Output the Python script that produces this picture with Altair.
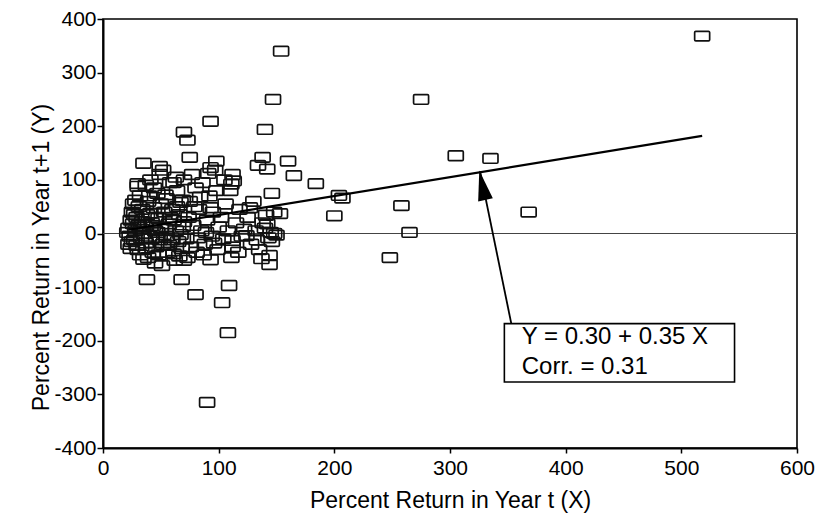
import altair as alt
import pandas as pd

# ---- scatter data (percent return in year t, year t+1) ----
x_vals = [
    # dense cluster, left
    22, 23, 24, 25, 22, 26, 27, 28, 29, 30, 31, 32, 33, 34, 35, 24, 26, 28, 30, 32, 34, 21, 25, 27, 29, 31, 33, 35,
    36, 37, 38, 39, 40, 41, 42, 43, 44, 45, 46, 47, 48, 49, 50, 37, 39, 41, 43, 45, 47, 49, 38, 40, 42, 44, 46, 48, 50,
    52, 53, 54, 55, 56, 57, 58, 59, 60, 61, 62, 63, 64, 65, 66, 67, 68, 69, 70, 52, 55, 58, 61, 64, 67, 70, 54, 57, 60, 63, 66, 69,
    72, 74, 75, 76, 78, 80, 81, 83, 85, 86, 88, 90, 92, 94, 95, 97, 99, 100, 73, 77, 79, 82, 84, 87, 89, 91, 93, 96, 98,
    102, 104, 106, 108, 110, 112, 115, 118, 120, 122, 125, 128, 130, 132, 135, 138, 140, 143, 145, 148, 150, 105, 113, 117, 127, 133, 142, 146,
    # outer points
    518, 154, 147, 93, 70, 73, 140, 75, 138, 134, 142, 160, 165, 184, 35, 49, 98, 93, 112, 111, 146, 204, 61, 30,
    141, 153, 111, 137, 144, 144, 38, 68, 80, 109, 103, 51, 70, 93, 148, 124, 112,
    207, 200, 248, 258, 265, 275, 305, 335, 368, 90, 108,
]
y_vals = [
    10, -5, 25, 40, -20, 55, -12, 5, 30, -30, 15, 70, -8, 45, 0, -28, 18, 62, 88, -40, 22, 2, -15, 35, -22, 50, 8, -48,
    12, -18, 35, 60, -5, 100, 20, -35, 48, 5, -25, 75, 28, -12, 55, 90, -45, 38, 15, -55, 2, 110, -28, 70, -10, 85, 30, -40, 10,
    -20, 40, 8, 65, -35, 18, 95, -8, 45, 25, -50, 5, 80, -15, 35, 58, -28, 12, 100, 118, -5, 30, -38, 50, -2, 22, 72, -22, -12, 105, -42, 62,
    -10, 30, 60, -25, 15, 85, -35, 45, 5, 95, -20, 25, 70, -5, 40, 118, -30, 12, -45, 110, 50, -8, 68, -40, 2, 112, 48, -18, 80,
    30, -10, 55, 5, 80, -25, 20, 45, -5, 8, 30, -20, 60, 5, -30, 20, 10, -8, 2, 40, -3, 100, 98, -35, 48, -12, 18, -15,
    368, 340, 250, 209, 189, 174, 194, 142, 142, 127, 120, 135, 108, 93, 131, 125, 135, 123, 110, 92, 75, 71, 95, 93,
    34, 37, -45, -47, -41, -58, -86, -86, -114, -97, -129, -60, -50, -49, 0, -4, -13,
    66, 33, -45, 52, 2, 250, 145, 140, 40, -315, -185,
]

# ---- regression line, zero line, annotation ----
reg_x, reg_x2 = [22], [518]
reg_y, reg_y2 = [7], [182]
zero_x, zero_x2, zero_y = [0], [600], [0]
arrow_x, arrow_x2 = [353], [326]
arrow_y, arrow_y2 = [-168], [116]
head_x, head_y = [328], [90]
box_x, box_x2 = [347], [546]
box_y, box_y2 = [-168], [-277]
note_text = ["Y = 0.30 + 0.35 X", "Corr. = 0.31"]
note_x = [362, 362]
note_y = [-206, -262]

x_ticks = [0, 100, 200, 300, 400, 500, 600]
y_ticks = [-400, -300, -200, -100, 0, 100, 200, 300, 400]

FONT = "Liberation Sans"

xscale = alt.Scale(domain=[0, 600], nice=False, zero=False)
yscale = alt.Scale(domain=[-400, 400], nice=False, zero=False)

LABEL_EXPR = "replace(datum.label, '\u2212', '-')"

x_axis = alt.Axis(values=x_ticks, title="Percent Return in Year t (X)", grid=False,
                  labelFontSize=21, titleFontSize=23, labelPadding=4, tickSize=5,
                  titleY=59, titleBaseline="alphabetic", labelFlush=False)
y_axis = alt.Axis(values=y_ticks, title="Percent Return in Year t+1 (Y)", grid=False,
                  labelFontSize=21, titleFontSize=23, labelPadding=1, tickSize=6,
                  titleX=-55, titleY=238, titleAngle=-90, titleAlign="center",
                  titleBaseline="alphabetic", labelFlush=False, labelExpr=LABEL_EXPR)


def X(field="x", axis=True):
    return alt.X(f"{field}:Q", scale=xscale, axis=x_axis if axis else None)


def Y(field="y", axis=True):
    return alt.Y(f"{field}:Q", scale=yscale, axis=y_axis if axis else None)


pts = pd.DataFrame({"x": x_vals, "y": y_vals})

rect_path = ("M-0.85,-0.64 L0.85,-0.64 Q1,-0.64 1,-0.49 L1,0.49 Q1,0.64 0.85,0.64 "
             "L-0.85,0.64 Q-1,0.64 -1,0.49 L-1,-0.49 Q-1,-0.64 -0.85,-0.64 Z")

zero = alt.Chart(pd.DataFrame({"x": zero_x, "x2": zero_x2, "y": zero_y})).mark_rule(
    color="#444", strokeWidth=1.2).encode(x=X(), x2="x2:Q", y=Y())

points = alt.Chart(pts).mark_point(shape=rect_path, size=225, filled=False,
                                    stroke="#111", strokeWidth=1.7, opacity=1).encode(
    x=X(), y=Y())

reg = alt.Chart(pd.DataFrame({"x": reg_x, "x2": reg_x2, "y": reg_y, "y2": reg_y2})).mark_rule(
    color="black", strokeWidth=2.2).encode(x=X(), x2="x2:Q", y=Y(), y2="y2:Q")

arrow = alt.Chart(pd.DataFrame({"x": arrow_x, "x2": arrow_x2, "y": arrow_y, "y2": arrow_y2})).mark_rule(
    color="black", strokeWidth=1.8).encode(x=X(), x2="x2:Q", y=Y(), y2="y2:Q")

head = alt.Chart(pd.DataFrame({"x": head_x, "y": head_y})).mark_point(
    shape="M0,-1 L0.5,1 L-0.5,1 Z", size=900, filled=True, color="black",
    angle=348, opacity=1).encode(x=X(), y=Y())

box = alt.Chart(pd.DataFrame({"x": box_x, "x2": box_x2, "y": box_y, "y2": box_y2})).mark_rect(
    fill="white", stroke="black", strokeWidth=1.6).encode(x=X(), x2="x2:Q", y=Y(), y2="y2:Q")

note = alt.Chart(pd.DataFrame({"x": note_x, "y": note_y, "t": note_text})).mark_text(
    align="left", baseline="alphabetic", fontSize=24, font=FONT, color="black").encode(
    x=X(), y=Y(), text="t:N")

chart = alt.layer(zero, points, reg, arrow, head, box, note).properties(
    width=694, height=429,
    autosize=alt.AutoSizeParams(type="none"),
    padding={"left": 103, "top": 19, "right": 22, "bottom": 68},
    background="white",
).configure_view(
    stroke="black", strokeWidth=1.6
).configure_axis(
    domainColor="black", domainWidth=2, tickColor="black", tickWidth=1.5,
    labelColor="black", titleColor="black", labelFont=FONT, titleFont=FONT,
    titleFontWeight="normal"
)

chart.save("out.html", embed_options={"renderer": "svg", "actions": False})
